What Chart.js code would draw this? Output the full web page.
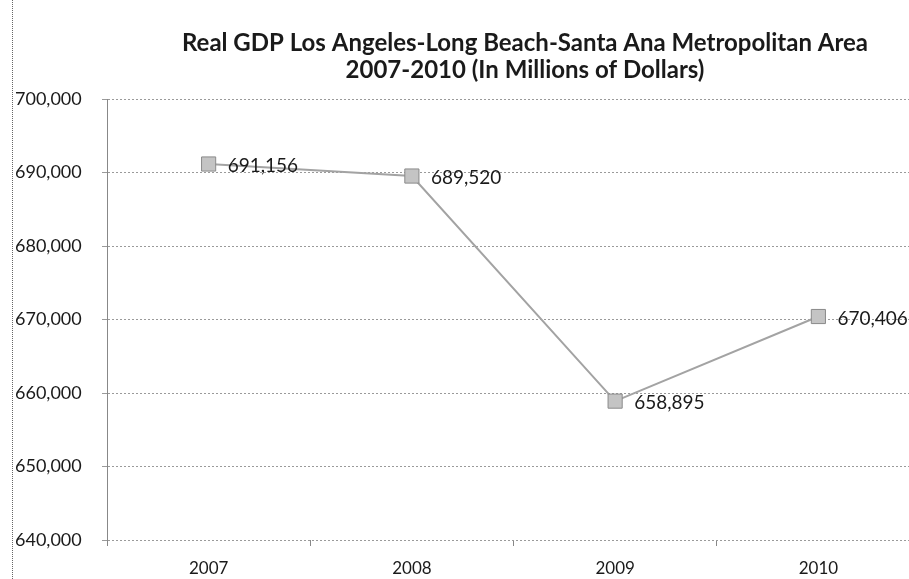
<!DOCTYPE html>
<html>
<head>
<meta charset="utf-8">
<script src="https://cdn.jsdelivr.net/npm/chart.js@4"></script>
<style>
  html, body { margin: 0; padding: 0; background: #fff; overflow: hidden; }
  #clip { position: relative; width: 909px; height: 579px; overflow: hidden; }
  #gdpChart { position: absolute; left: 0; top: 0; }
  #frame { position: absolute; left: 12px; top: 0; width: 0; height: 579px; border-left: 1px dotted #666; }
</style>
</head>
<body>
<div id="clip">
  <canvas id="gdpChart" width="931" height="579" style="width:931px;height:579px"></canvas>
  <div id="frame"></div>
</div>
<script>
const years = ['2007', '2008', '2009', '2010'];
const gdpValues = [691156, 689520, 658895, 670406];
const yMin = 640000;
const yMax = 700000;
const yStep = 10000;
const titleLines = ['Real GDP Los Angeles-Long Beach-Santa Ana Metropolitan Area', '2007-2010 (In Millions of Dollars)'];

const fontFamily = 'Lato, "Open Sans", sans-serif';

// title above the plot, data labels right of each point
const drawExtras = {
    id: 'drawExtras',
    afterDatasetsDraw(chart) {
        const ctx = chart.ctx;
        ctx.save();
        ctx.fillStyle = '#1a1a1a';
        ctx.font = 'bold 24px ' + fontFamily;
        ctx.textAlign = 'center';
        ctx.textBaseline = 'middle';
        ctx.fillText(titleLines[0], 525, 43);
        ctx.fillText(titleLines[1], 525, 70);

        ctx.font = '19px ' + fontFamily;
        ctx.textAlign = 'left';
        ctx.fillStyle = '#1a1a1a';
        const meta = chart.getDatasetMeta(0);
        meta.data.forEach((pt, i) => {
            ctx.fillText(gdpValues[i].toLocaleString('en-US'), pt.x + 19, pt.y + 2);
        });
        ctx.restore();
    }
};

new Chart(document.getElementById('gdpChart').getContext('2d'), {
    type: 'line',
    data: {
        labels: years,
        datasets: [{
            label: 'Real GDP',
            data: gdpValues,
            borderColor: '#a3a3a3',
            borderWidth: 2,
            pointStyle: 'rect',
            pointRadius: 10,
            pointBackgroundColor: '#c4c4c4',
            pointBorderColor: '#8a8a8a',
            pointBorderWidth: 1,
            tension: 0
        }]
    },
    options: {
        responsive: false,
        animation: false,
        devicePixelRatio: 1,
        layout: { padding: { top: 99, right: 0, bottom: 0, left: 15 } },
        plugins: {
            legend: { display: false },
            title: { display: false },
            tooltip: { enabled: false }
        },
        scales: {
            x: {
                offset: true,
                afterFit(scale) { scale.height = 39; },
                grid: {
                    display: true,
                    offset: true,
                    drawOnChartArea: false,
                    tickLength: 6,
                    color: '#888'
                },
                border: { display: false },
                ticks: {
                    color: '#1a1a1a',
                    padding: 12,
                    font: { family: fontFamily, size: 17 }
                }
            },
            y: {
                min: yMin,
                max: yMax,
                afterFit(scale) { scale.width = 92; },
                grid: {
                    color: '#9a9a9a',
                    tickLength: 5
                },
                border: { display: true, color: '#888', dash: [2, 2] },
                ticks: {
                    stepSize: yStep,
                    crossAlign: 'far',
                    color: '#1a1a1a',
                    padding: 8,
                    font: { family: fontFamily, size: 18 },
                    callback: v => v.toLocaleString('en-US')
                }
            }
        }
    },
    plugins: [drawExtras]
});
</script>
</body>
</html>
